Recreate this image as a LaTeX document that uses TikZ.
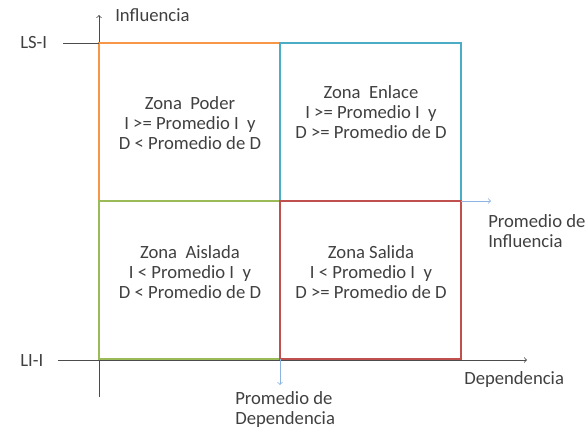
\documentclass[tikz,border=0pt]{standalone}
\usepackage{fontspec}
\setmainfont{Carlito}
\usetikzlibrary{positioning}
\definecolor{zorange}{HTML}{F79646}
\definecolor{zblue}{HTML}{4BACC6}
\definecolor{zgreen}{HTML}{9BBB59}
\definecolor{zred}{HTML}{C0504D}
\definecolor{avgblue}{HTML}{8DB3E2}
\definecolor{textgray}{HTML}{404040}
\begin{document}
\begin{tikzpicture}[
  x=0.75pt, y=-0.75pt,
  zone/.style={rectangle, draw, line width=1.2pt, minimum width=135.75pt, minimum height=118.5pt, inner sep=0pt, outer sep=0pt},
  zonetext/.style={align=center, text=textgray},
  lbl/.style={inner sep=0pt, anchor=west, align=left, text=textgray},
  axis/.style={draw=black!70, line width=0.6pt},
  avg/.style={draw=avgblue, line width=0.6pt},
  font=\fontsize{14}{15}\selectfont
]
\useasboundingbox (0,0) rectangle (588,432);

% Axes
\coordinate (ybot) at (99,397);
\coordinate (ytop) at (99,15);
\coordinate (xleft) at (58,360);
\coordinate (xright) at (527,360);
\draw[axis,->] (ybot) -- (ytop);
\draw[axis,->] (xleft) -- (xright);

% Zones
\node (poder) [zone, draw=zorange] at (189.5,122) {};
\node (aislada) [zone, draw=zgreen, below=0pt of poder] {};
\node (enlace) [zone, draw=zblue, right=0pt of poder] {};
\node (salida) [zone, draw=zred, below=0pt of enlace] {};

\node (podertxt) [zonetext] at (190,123) {Zona\ \ Poder\\I >= Promedio I\ \ y\\D < Promedio de D};
\node (enlacetxt) [zonetext] at (371,112) {Zona\ \ Enlace\\I >= Promedio I\ \ y\\D >= Promedio de D};
\node (aisladatxt) [zonetext] at (190,272) {Zona\ \ Aislada\\I < Promedio I\ \ y\\D < Promedio de D};
\node (salidatxt) [zonetext] at (371,272) {Zona Salida\\I < Promedio I\ \ y\\D >= Promedio de D};

% Limits and averages
\coordinate (lsi) at (63,43);
\coordinate (avgi) at (491,201);
\coordinate (avgd) at (280,385);
\draw[axis] (lsi) -- (poder.north west);
\draw[avg,->] (enlace.south east) -- (avgi);
\draw[avg,->] (aislada.south east) -- (avgd);

% Labels
\node (infl) [lbl] at (115,15) {Influencia};
\node (lsilbl) [lbl] at (20,43) {LS-I};
\node (lilbl) [lbl] at (20,361) {LI-I};
\node (avgilbl) [lbl] at (488,231) {Promedio de\\Influencia};
\node (dep) [lbl] at (464,380) {Dependencia};
\node (avgdlbl) [lbl] at (235,410) {Promedio de\\Dependencia};

\end{tikzpicture}
\end{document}
